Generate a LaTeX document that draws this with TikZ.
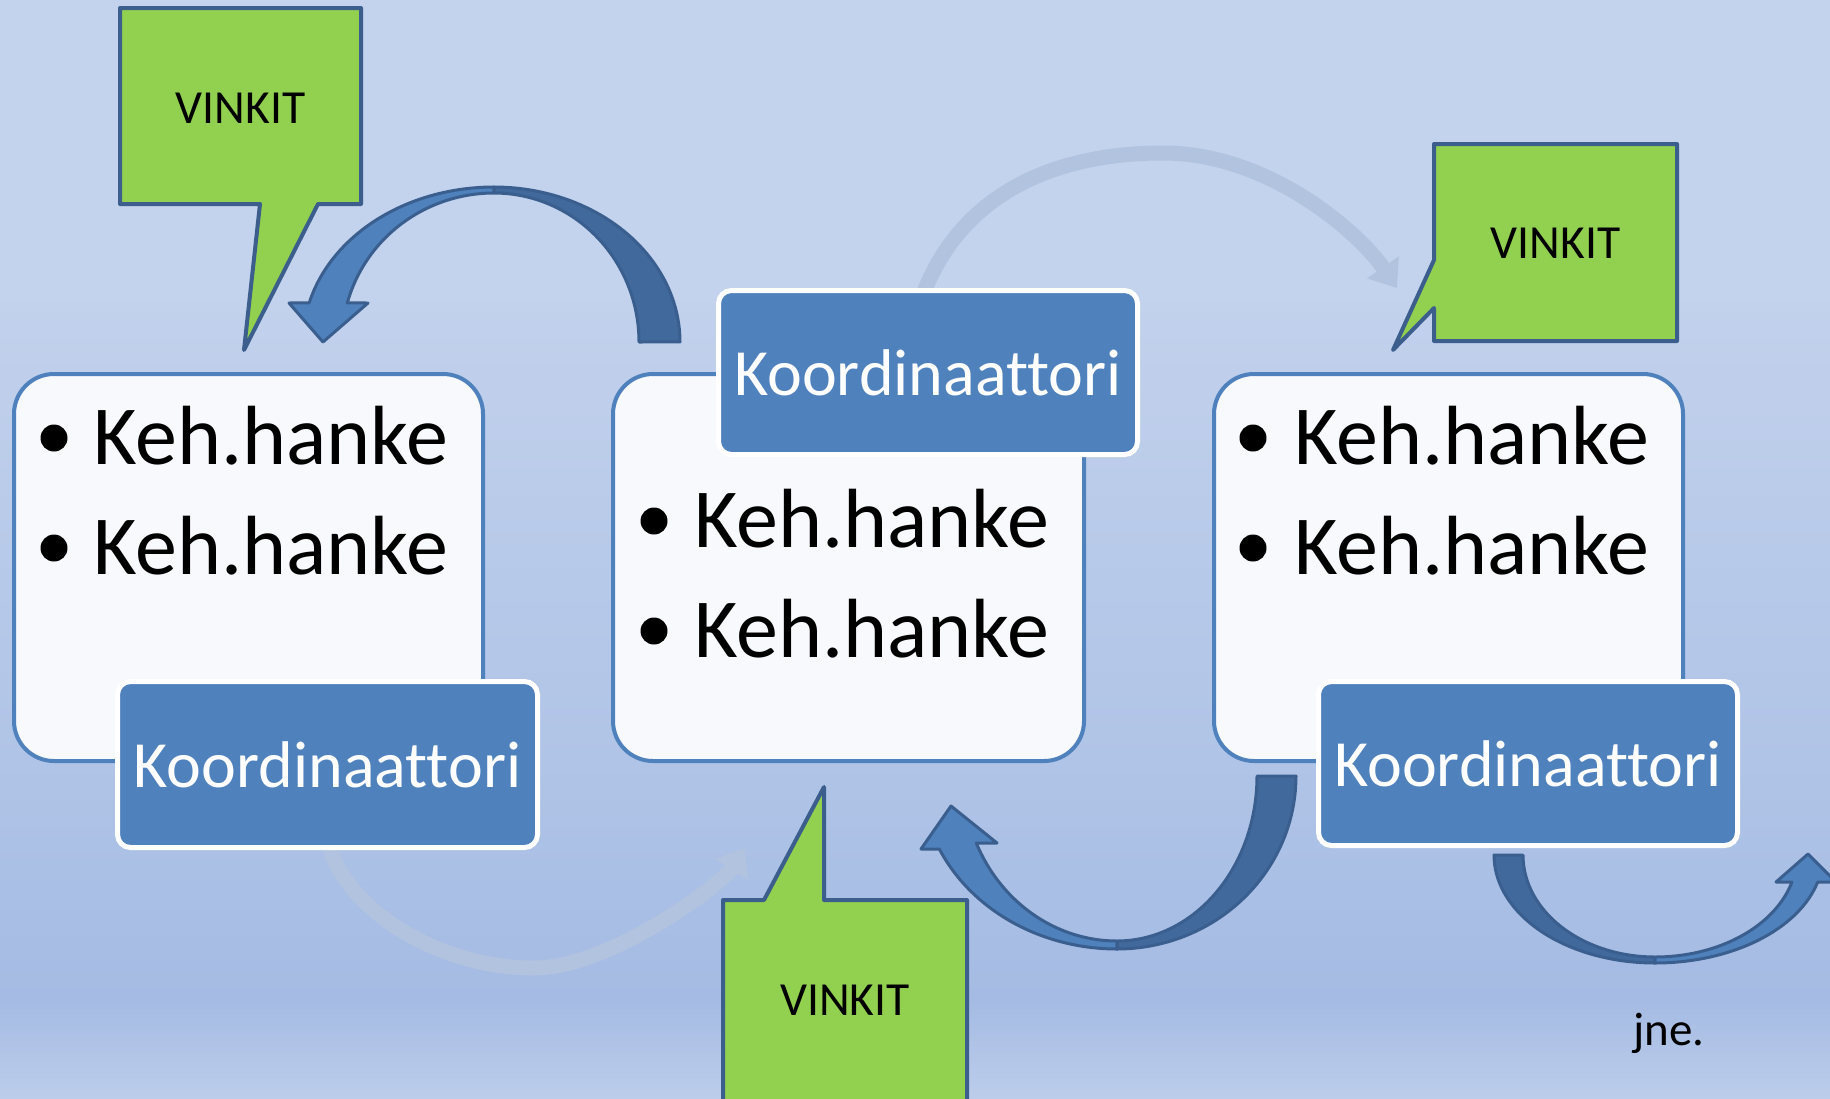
\documentclass[tikz,border=0pt]{standalone}
\usepackage{fontspec}
\setmainfont{Carlito}[Ligatures=NoCommon]
\usetikzlibrary{arrows.meta}
\definecolor{bgE}{HTML}{C3D2ED}
\definecolor{bgD}{HTML}{C2D1EC}
\definecolor{bgC}{HTML}{B0C4E7}
\definecolor{bgB}{HTML}{A5BBE3}
\definecolor{bgA}{HTML}{BCCDEB}
\definecolor{boxline}{HTML}{4F81BD}
\definecolor{boxfill}{HTML}{F8F9FD}
\definecolor{koordfill}{HTML}{4F81BD}
\definecolor{callline}{HTML}{3B5E8D}
\definecolor{callfill}{HTML}{92D050}
\definecolor{arrl}{HTML}{4F81BD}
\definecolor{arrd}{HTML}{41699C}
\definecolor{arrline}{HTML}{3A5F8F}
\definecolor{faintc}{HTML}{B2C3DF}
\newcommand\kehfont{\fontsize{84}{100}\selectfont}
\newcommand\koordfont{\fontsize{66}{79}\selectfont}
\newcommand\vinkfont{\fontsize{47.5}{57}\selectfont}
\newcommand\jnefont{\fontsize{47}{56}\selectfont}
\begin{document}
\begin{tikzpicture}[x=1pt,y=-1pt,
  hbox/.style={draw=boxline, line width=4pt, fill=boxfill, rounded corners=40pt, inner sep=0pt},
  koord/.style={draw=white, line width=5pt, fill=koordfill, rounded corners=13pt, text=white, font=\koordfont, inner sep=0pt},
  callout/.style={draw=callline, line width=4pt, fill=callfill, line join=round},
  vinkit/.style={font=\vinkfont, inner sep=0pt, anchor=base},
  keh/.style={font=\kehfont, inner sep=0pt, anchor=base west},
  bulletdot/.style={circle, fill=black, minimum size=27pt, inner sep=0pt},
  arrlight/.style={fill=arrl, draw=arrline, line width=3pt, line join=round},
  arrdark/.style={fill=arrd, draw=arrline, line width=3pt, line join=round},
  faint/.style={draw=faintc, line width=15pt, -{Triangle[length=25pt,width=37pt]}}
]
\useasboundingbox (0,0) rectangle (1830,1098);
\clip (0,0) rectangle (1830,1098);
% background
\fill[bgE] (0,0) rectangle (1830,301);
\shade[top color=bgD, bottom color=bgC] (0,300) rectangle (1830,761);
\shade[top color=bgC, bottom color=bgB] (0,760) rectangle (1830,1001);
\shade[top color=bgB, bottom color=bgA] (0,1000) rectangle (1830,1098);

% end points of the faint connectors
\coordinate (fA) at (327,835);
\coordinate (fAb) at (534,968);
\coordinate (fAe) at (745,848);
\coordinate (fB) at (921,300);
\coordinate (fBt) at (1163,153);
\coordinate (fBe) at (1397,288);

% faint connectors
\draw[faint] (fA) .. controls (335,900) and (430,968) .. (fAb) .. controls (610,968) and (722,884) .. (fAe);
\draw[faint] (fB) .. controls (960,190) and (1060,153) .. (fBt) .. controls (1270,153) and (1360,234) .. (fBe);

% white boxes
\node[hbox, minimum width=469pt, minimum height=387pt] (boxA) at (248.5,567.5) {};
\node[hbox, minimum width=471pt, minimum height=387pt] (boxB) at (848.5,567.5) {};
\node[hbox, minimum width=469pt, minimum height=387pt] (boxC) at (1448.5,567.5) {};

% bullets and texts
\node[bulletdot] (bA1) at (54,438) {};
\node[bulletdot] (bA2) at (54,548) {};
\node[keh] (tA1) at (93,464) {Keh.hanke};
\node[keh] (tA2) at (93,574) {Keh.hanke};
\node[bulletdot] (bB1) at (654,521) {};
\node[bulletdot] (bB2) at (654,631) {};
\node[keh] (tB1) at (694,547) {Keh.hanke};
\node[keh] (tB2) at (694,657) {Keh.hanke};
\node[bulletdot] (bC1) at (1253,438) {};
\node[bulletdot] (bC2) at (1253,548) {};
\node[keh] (tC1) at (1294,464) {Keh.hanke};
\node[keh] (tC2) at (1294,574) {Keh.hanke};

% coordinator boxes
\node[koord, minimum width=420pt, minimum height=166pt] (kA) at (327.5,764.5) {Koordinaattori};
\node[koord, minimum width=419pt, minimum height=164pt] (kB) at (928,372.5) {Koordinaattori};
\node[koord, minimum width=419pt, minimum height=164pt] (kC) at (1528,763.5) {Koordinaattori};

% block arrow 1 (top, pointing to left box)
\filldraw[arrdark] plot[domain=0:1,samples=50] ({494+186*cos(-90+90*\x)},{342+155*sin(-90+90*\x)})
  -- plot[domain=0:1,samples=50] ({494+145*cos(-90*\x)},{342+149*sin(-90*\x)}) -- cycle;
\filldraw[arrlight] plot[domain=0:1,samples=50] ({494+191*cos(-90-75.4*\x)},{342+155*sin(-90-75.4*\x)})
  -- (289,303) -- (323,342) -- (368,303)
  -- plot[domain=0:1,samples=50] ({494+152*cos(-164.8+74.8*\x)},{342+149*sin(-164.8+74.8*\x)}) -- cycle;

% block arrow 2 (bottom, pointing to middle box)
\filldraw[arrdark] plot[domain=0:1,samples=50] ({1117+179*cos(90*\x)},{776+173*sin(90*\x)})
  -- plot[domain=0:1,samples=50] ({1117+140*cos(90-90*\x)},{776+165*sin(90-90*\x)}) -- cycle;
\filldraw[arrlight] plot[domain=0:1,samples=50] ({1117+196*cos(90+65*\x)},{776+173*sin(90+65*\x)})
  -- (921,849) -- (951,806) -- (997,843)
  -- plot[domain=0:1,samples=50] ({1117+154*cos(156-66*\x)},{776+165*sin(156-66*\x)}) -- cycle;

% block arrow 3 (bottom right, onwards)
\filldraw[arrdark] plot[domain=0:1,samples=50] ({1655+161*cos(180-90*\x)},{855+108*sin(180-90*\x)})
  -- plot[domain=0:1,samples=50] ({1655+132*cos(90+90*\x)},{855+102*sin(90+90*\x)}) -- cycle;
\filldraw[arrlight] plot[domain=0:1,samples=50] ({1655+168*cos(90-75.5*\x)},{855+108*sin(90-75.5*\x)})
  -- (1836,882) -- (1808,854) -- (1776,882)
  -- plot[domain=0:1,samples=50] ({1655+142*cos(15.4+74.6*\x)},{855+102*sin(15.4+74.6*\x)}) -- cycle;

% callouts
\draw[callout] (120,8) -- (361,8) -- (361,204) -- (318,204) -- (244,350) -- (260,204) -- (120,204) -- cycle;
\node[vinkit] (v1) at (240.5,123) {VINKIT};
\draw[callout] (1434,144) -- (1677,144) -- (1677,341) -- (1434,341) -- (1434,308) -- (1393,350) -- (1434,260) -- cycle;
\node[vinkit] (v2) at (1555.5,258) {VINKIT};
\draw[callout] (723,900) -- (764,900) -- (824,787) -- (824,900) -- (967,900) -- (967,1115) -- (723,1115) -- cycle;
\node[vinkit] (v3) at (845,1015) {VINKIT};

% etc.
\node[font=\jnefont, inner sep=0pt, anchor=base west] (jne) at (1633,1045) {jne.};
\end{tikzpicture}
\end{document}
